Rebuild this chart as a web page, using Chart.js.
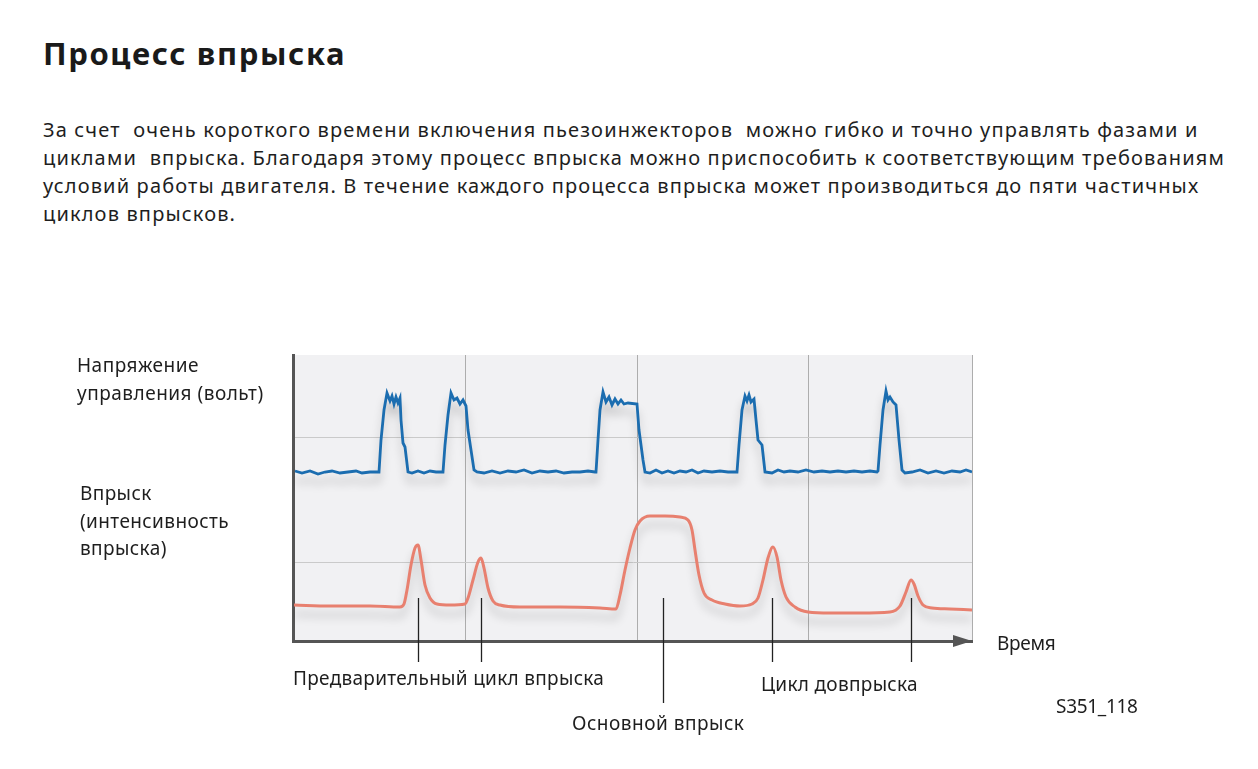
<!DOCTYPE html>
<html lang="ru">
<head>
<meta charset="utf-8">
<script src="https://cdn.jsdelivr.net/npm/chart.js@4.4.1/dist/chart.umd.min.js"></script>
<style>
  html, body { margin: 0; padding: 0; background: #fff; }
  body { width: 1258px; height: 769px; position: relative; overflow: hidden;
         font-family: "Noto Sans", sans-serif; color: #1e1e1e; }
  #chart { position: absolute; left: 0; top: 0; }
  .t { position: absolute; white-space: pre; font-size: 19px; line-height: 28px; letter-spacing: 0.3px; }
  h1 { position: absolute; left: 43px; top: 31px; margin: 0; font-size: 31px; line-height: 44px;
       font-weight: 700; letter-spacing: 1.6px; color: #1a1a1a; }
  #intro { left: 43px; top: 116px; font-size: 20px; letter-spacing: 1.15px; }
</style>
</head>
<body>
<h1>Процесс впрыска</h1>
<div class="t" id="intro">За счет  очень короткого времени включения пьезоинжекторов  можно гибко и точно управлять фазами и
циклами  впрыска. Благодаря этому процесс впрыска можно приспособить к соответствующим требованиям
условий работы двигателя. В течение каждого процесса впрыска может производиться до пяти частичных
циклов впрысков.</div>

<canvas id="chart" width="1258" height="769"></canvas>

<div class="t" style="left:77px;top:351px;letter-spacing:0.5px">Напряжение
управления (вольт)</div>
<div class="t" style="left:80px;top:480px;line-height:27.5px;letter-spacing:0.4px">Впрыск
(интенсивность
впрыска)</div>
<div class="t" style="left:293px;top:664px">Предварительный цикл впрыска</div>
<div class="t" style="left:572px;top:709px;letter-spacing:0.5px">Основной впрыск</div>
<div class="t" style="left:761px;top:670px">Цикл довпрыска</div>
<div class="t" style="left:997px;top:629px;letter-spacing:-0.3px">Время</div>
<div class="t" style="left:1056px;top:692px;letter-spacing:-0.3px">S351_118</div>

<script>
// time axis (arbitrary units) and signal levels
const voltT = [2, 9, 17, 25, 32, 39, 47, 55, 63, 69, 77, 85,
  86, 88, 91, 94, 97, 99, 101, 103, 105, 107, 108, 110, 112, 115,
  119, 125, 131, 137, 143, 149,
  150, 152, 155, 158, 161, 164, 167, 170, 173, 175, 178, 181, 184,
  191, 199, 207, 215, 223, 231, 239, 247, 255, 263, 271, 279, 287, 295, 302,
  303, 305, 307, 310, 313, 316, 319, 322, 325, 328, 331, 335, 344, 346, 348, 350, 352,
  357, 363, 369, 375, 381, 387, 393, 399, 405, 411, 419, 427, 435, 443,
  444, 446, 449, 452, 454, 456, 458, 461, 463, 465, 469, 472,
  479, 485, 491, 497, 505, 513, 521, 529, 537, 545, 553, 561, 569, 577, 584,
  585, 587, 590, 593, 595, 597, 600, 603, 606, 609, 612,
  619, 627, 635, 643, 651, 659, 667, 673, 679];
const voltV = [170, 168, 170, 167, 169, 170, 168, 169, 170, 168, 169, 169,
  169, 201, 231, 248, 240, 245, 237, 244, 238, 243, 221, 198, 194, 169,
  168, 170, 168, 170, 169, 169,
  169, 196, 226, 248, 241, 243, 237, 241, 235, 211, 191, 171, 169,
  168, 170, 168, 170, 169, 171, 168, 170, 169, 170, 168, 169, 169, 170, 169,
  169, 201, 231, 249, 239, 244, 236, 242, 237, 241, 237, 238, 237, 211, 196, 181, 169,
  168, 171, 168, 170, 168, 170, 169, 171, 168, 170, 169, 170, 169, 169,
  169, 196, 231, 245, 240, 246, 239, 242, 221, 201, 196, 169,
  168, 171, 169, 170, 169, 171, 169, 170, 169, 170, 169, 170, 169, 170, 169,
  170, 196, 231, 250, 241, 244, 239, 236, 201, 171, 168,
  169, 171, 168, 170, 168, 170, 169, 171, 169];

const injT = [1, 37, 77, 107, 111, 114, 118, 122, 125, 128, 132, 137, 144, 157, 172,
  175, 180, 185, 188, 191, 195, 200, 207, 227, 267, 307, 323,
  327, 332, 337, 342, 347, 357, 372, 387, 395, 399, 402, 406, 411, 419, 432, 447,
  459, 465, 470, 475, 480, 484, 488, 493, 502, 515, 537, 567, 597,
  607, 613, 618, 621, 625, 630, 639, 657, 679];
const injV = [36, 35, 35, 34, 37, 51, 76, 93, 96, 81, 56, 43, 37, 36, 37,
  43, 61, 79, 83, 73, 53, 40, 36, 34, 34, 33, 32,
  46, 71, 93, 111, 120, 125, 125, 124, 121, 111, 91, 66, 48, 41, 37, 35,
  37, 43, 61, 83, 94, 84, 61, 44, 34, 29, 28, 28, 29,
  35, 49, 61, 57, 45, 36, 33, 32, 31];

const gridTimes = [0, 172, 344, 515, 679];
const gridLevels = [79, 204];

// leader lines under the labelled injections
const markerTimes = [125, 188, 370, 479, 618];
const markerTop = 43;
const markerDrop = [21, 21, 62, 21, 21];

const pts = (xs, ys) => xs.map((x, i) => ({ x, y: ys[i] }));

const plotBg = {
  id: "plotBg",
  beforeDraw(chart) {
    const { ctx, chartArea: a } = chart;
    ctx.save();
    ctx.fillStyle = "#f1f1f3";
    ctx.fillRect(a.left, a.top, a.right - a.left, a.bottom - a.top);
    ctx.restore();
  },
};

const lineShadow = {
  id: "lineShadow",
  beforeDatasetDraw(chart) {
    const ctx = chart.ctx;
    ctx.save();
    ctx.shadowColor = "rgba(0,0,0,0.22)";
    ctx.shadowBlur = 10;
    ctx.shadowOffsetY = 9;
  },
  afterDatasetDraw(chart) {
    chart.ctx.restore();
  },
};

const extras = {
  id: "extras",
  afterDraw(chart) {
    const { ctx, scales: { x, y }, chartArea: a } = chart;
    ctx.save();
    // time arrow head
    ctx.fillStyle = "#555";
    ctx.beginPath();
    ctx.moveTo(a.right, a.bottom);
    ctx.lineTo(a.right - 19, a.bottom - 6);
    ctx.lineTo(a.right - 19, a.bottom + 6);
    ctx.closePath();
    ctx.fill();
    // leader lines
    ctx.strokeStyle = "#222";
    ctx.lineWidth = 1.3;
    markerTimes.forEach((t, i) => {
      const px = Math.round(x.getPixelForValue(t)) + 0.5;
      ctx.beginPath();
      ctx.moveTo(px, y.getPixelForValue(markerTop));
      ctx.lineTo(px, a.bottom + markerDrop[i]);
      ctx.stroke();
    });
    ctx.restore();
  },
};

new Chart(document.getElementById("chart"), {
  type: "line",
  data: {
    datasets: [
      {
        label: "Напряжение управления",
        data: pts(voltT, voltV),
        borderColor: "#1b6db0",
        borderWidth: 2.8,
        pointRadius: 0,
        tension: 0,
      },
      {
        label: "Впрыск",
        data: pts(injT, injV),
        borderColor: "#e8806f",
        borderWidth: 3,
        pointRadius: 0,
        cubicInterpolationMode: "monotone",
      },
    ],
  },
  options: {
    responsive: false,
    animation: false,
    layout: { padding: { left: 293, top: 355, right: 286, bottom: 128 } },
    plugins: { legend: { display: false }, tooltip: { enabled: false } },
    scales: {
      x: {
        type: "linear",
        min: 0,
        max: 679,
        afterBuildTicks: (s) => { s.ticks = gridTimes.map((v) => ({ value: v })); },
        ticks: { display: false },
        grid: { color: "#adadad", lineWidth: 1, drawTicks: false },
        border: { display: true, color: "#555", width: 3 },
      },
      y: {
        min: 0,
        max: 286,
        afterBuildTicks: (s) => { s.ticks = gridLevels.map((v) => ({ value: v })); },
        ticks: { display: false },
        grid: { color: "#cacaca", lineWidth: 1, drawTicks: false },
        border: { display: true, color: "#555", width: 3 },
      },
    },
  },
  plugins: [plotBg, lineShadow, extras],
});
</script>
</body>
</html>
